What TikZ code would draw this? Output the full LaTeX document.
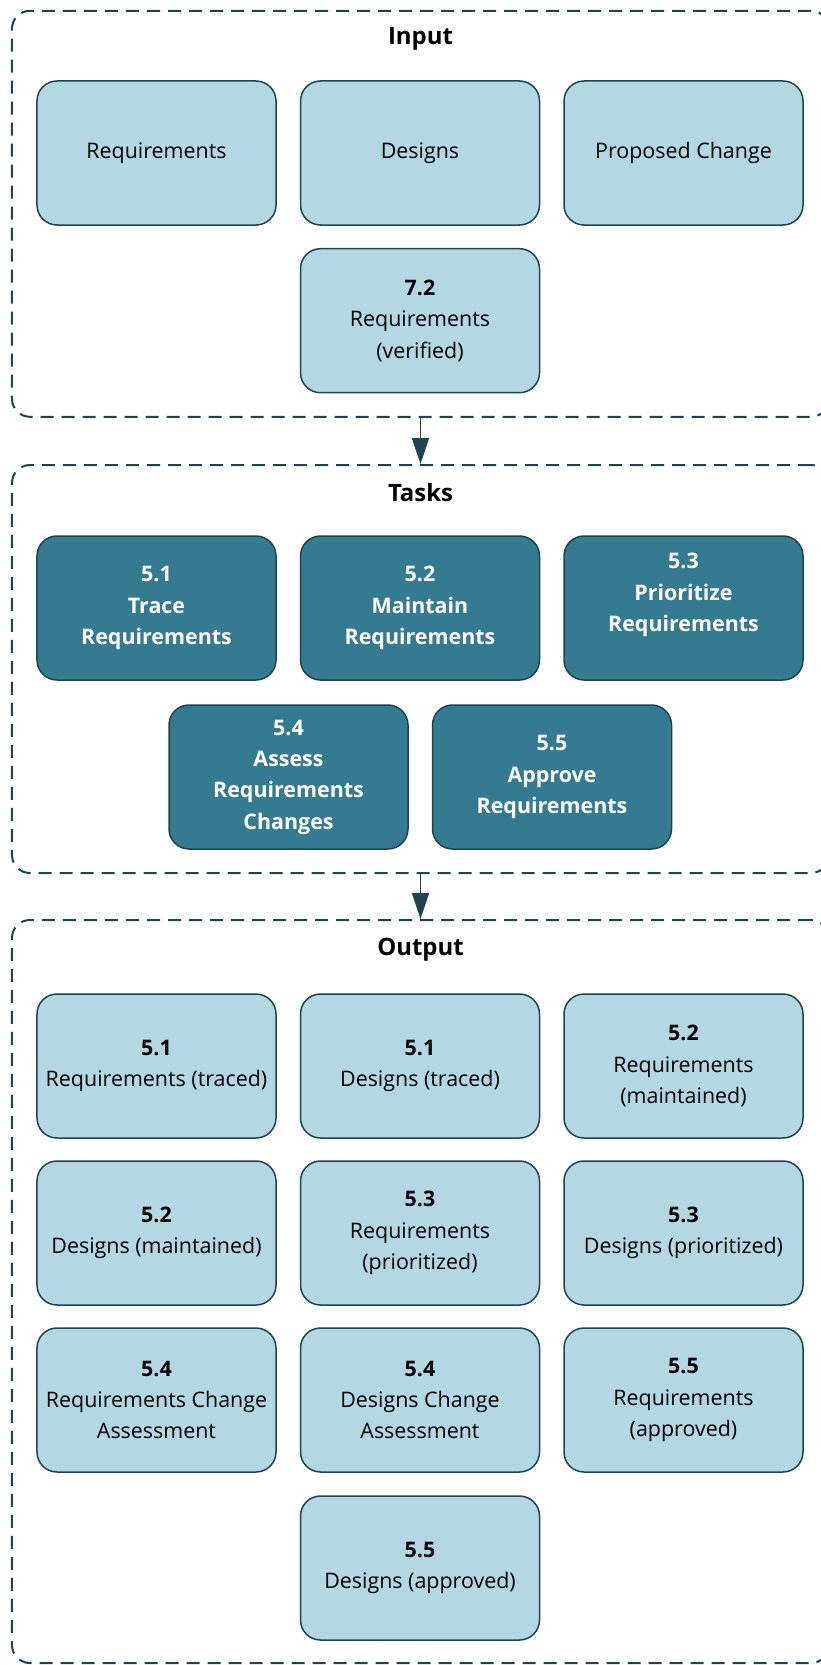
\documentclass[tikz,border=0pt]{standalone}
\usepackage{fontspec}
\setmainfont{Open Sans}
\usetikzlibrary{arrows.meta}
\definecolor{boxlight}{HTML}{B3D8E3}
\definecolor{boxdark}{HTML}{347B91}
\definecolor{edge}{HTML}{1E4452}
\begin{document}
\begin{tikzpicture}[x = 1bp, y = -1bp,
  frame/.style = {draw = edge, line width = 2bp, dash pattern = on 13bp off 8bp, rounded corners = 18bp, minimum width = 817bp, inner sep = 0},
  item/.style = {draw = edge, line width = 1.5bp, fill = boxlight, rounded corners = 20bp, minimum width = 239bp, minimum height = 144bp, align = center, inner sep = 0, font = \fontsize{21.5}{31.5}\selectfont},
  task/.style = {item, fill = boxdark, text = white, font = \fontsize{21.5}{31.5}\selectfont\bfseries},
  title/.style = {anchor = base, font = \fontsize{24}{30}\selectfont\bfseries},
  flow/.style = {draw = edge, line width = 1.8bp, -{Triangle[width = 17bp, length = 26bp]}}]
\useasboundingbox (0, 0) rectangle (821, 1665);
\node[frame, minimum height = 406bp] (input) at (420.5, 213.8) {};
\node[frame, minimum height = 408bp] (tasks) at (420.5, 669) {};
\node[frame, minimum height = 743bp] (output) at (420.5, 1291.5) {};
\node[title] (inputtitle) at (420.5, 44.5) {Input};
\node[title] (taskstitle) at (420.5, 501.5) {Tasks};
\node[title] (outputtitle) at (420.5, 955.5) {Output};
\draw[flow] (input.south) -- (tasks.north);
\draw[flow] (tasks.south) -- (output.north);
\node[item] (inreq) at (156.5, 153) {Requirements};
\node[item] (indes) at (420, 153) {Designs};
\node[item] (inchange) at (683.5, 153) {Proposed Change};
\node[item] (inverified) at (420, 320.7) {\textbf{7.2}\\Requirements\\(verified)};
\node[task] (trace) at (156.5, 608) {5.1\\Trace\\Requirements};
\node[task] (maintain) at (420, 608) {5.2\\Maintain\\Requirements};
\node[task] (prioritize) at (683.5, 608) {5.3\\Prioritize\\Requirements\\\mbox{}};
\node[task] (assess) at (288.5, 777) {5.4\\Assess\\Requirements\\Changes};
\node[task] (approve) at (552, 777) {5.5\\Approve\\Requirements};
\node[item] (reqtraced) at (156.5, 1066) {\textbf{5.1}\\Requirements (traced)};
\node[item] (destraced) at (420, 1066) {\textbf{5.1}\\Designs (traced)};
\node[item] (reqmaint) at (683.5, 1066) {\textbf{5.2}\\Requirements\\(maintained)};
\node[item] (desmaint) at (156.5, 1233) {\textbf{5.2}\\Designs (maintained)};
\node[item] (reqprio) at (420, 1233) {\textbf{5.3}\\Requirements\\(prioritized)};
\node[item] (desprio) at (683.5, 1233) {\textbf{5.3}\\Designs (prioritized)};
\node[item] (reqassess) at (156.5, 1400) {\textbf{5.4}\\Requirements Change\\Assessment};
\node[item] (desassess) at (420, 1400) {\textbf{5.4}\\Designs Change\\Assessment};
\node[item] (reqappr) at (683.5, 1400) {\textbf{5.5}\\Requirements\\(approved)};
\node[item] (desappr) at (420, 1568) {\textbf{5.5}\\Designs (approved)};
\end{tikzpicture}
\end{document}
